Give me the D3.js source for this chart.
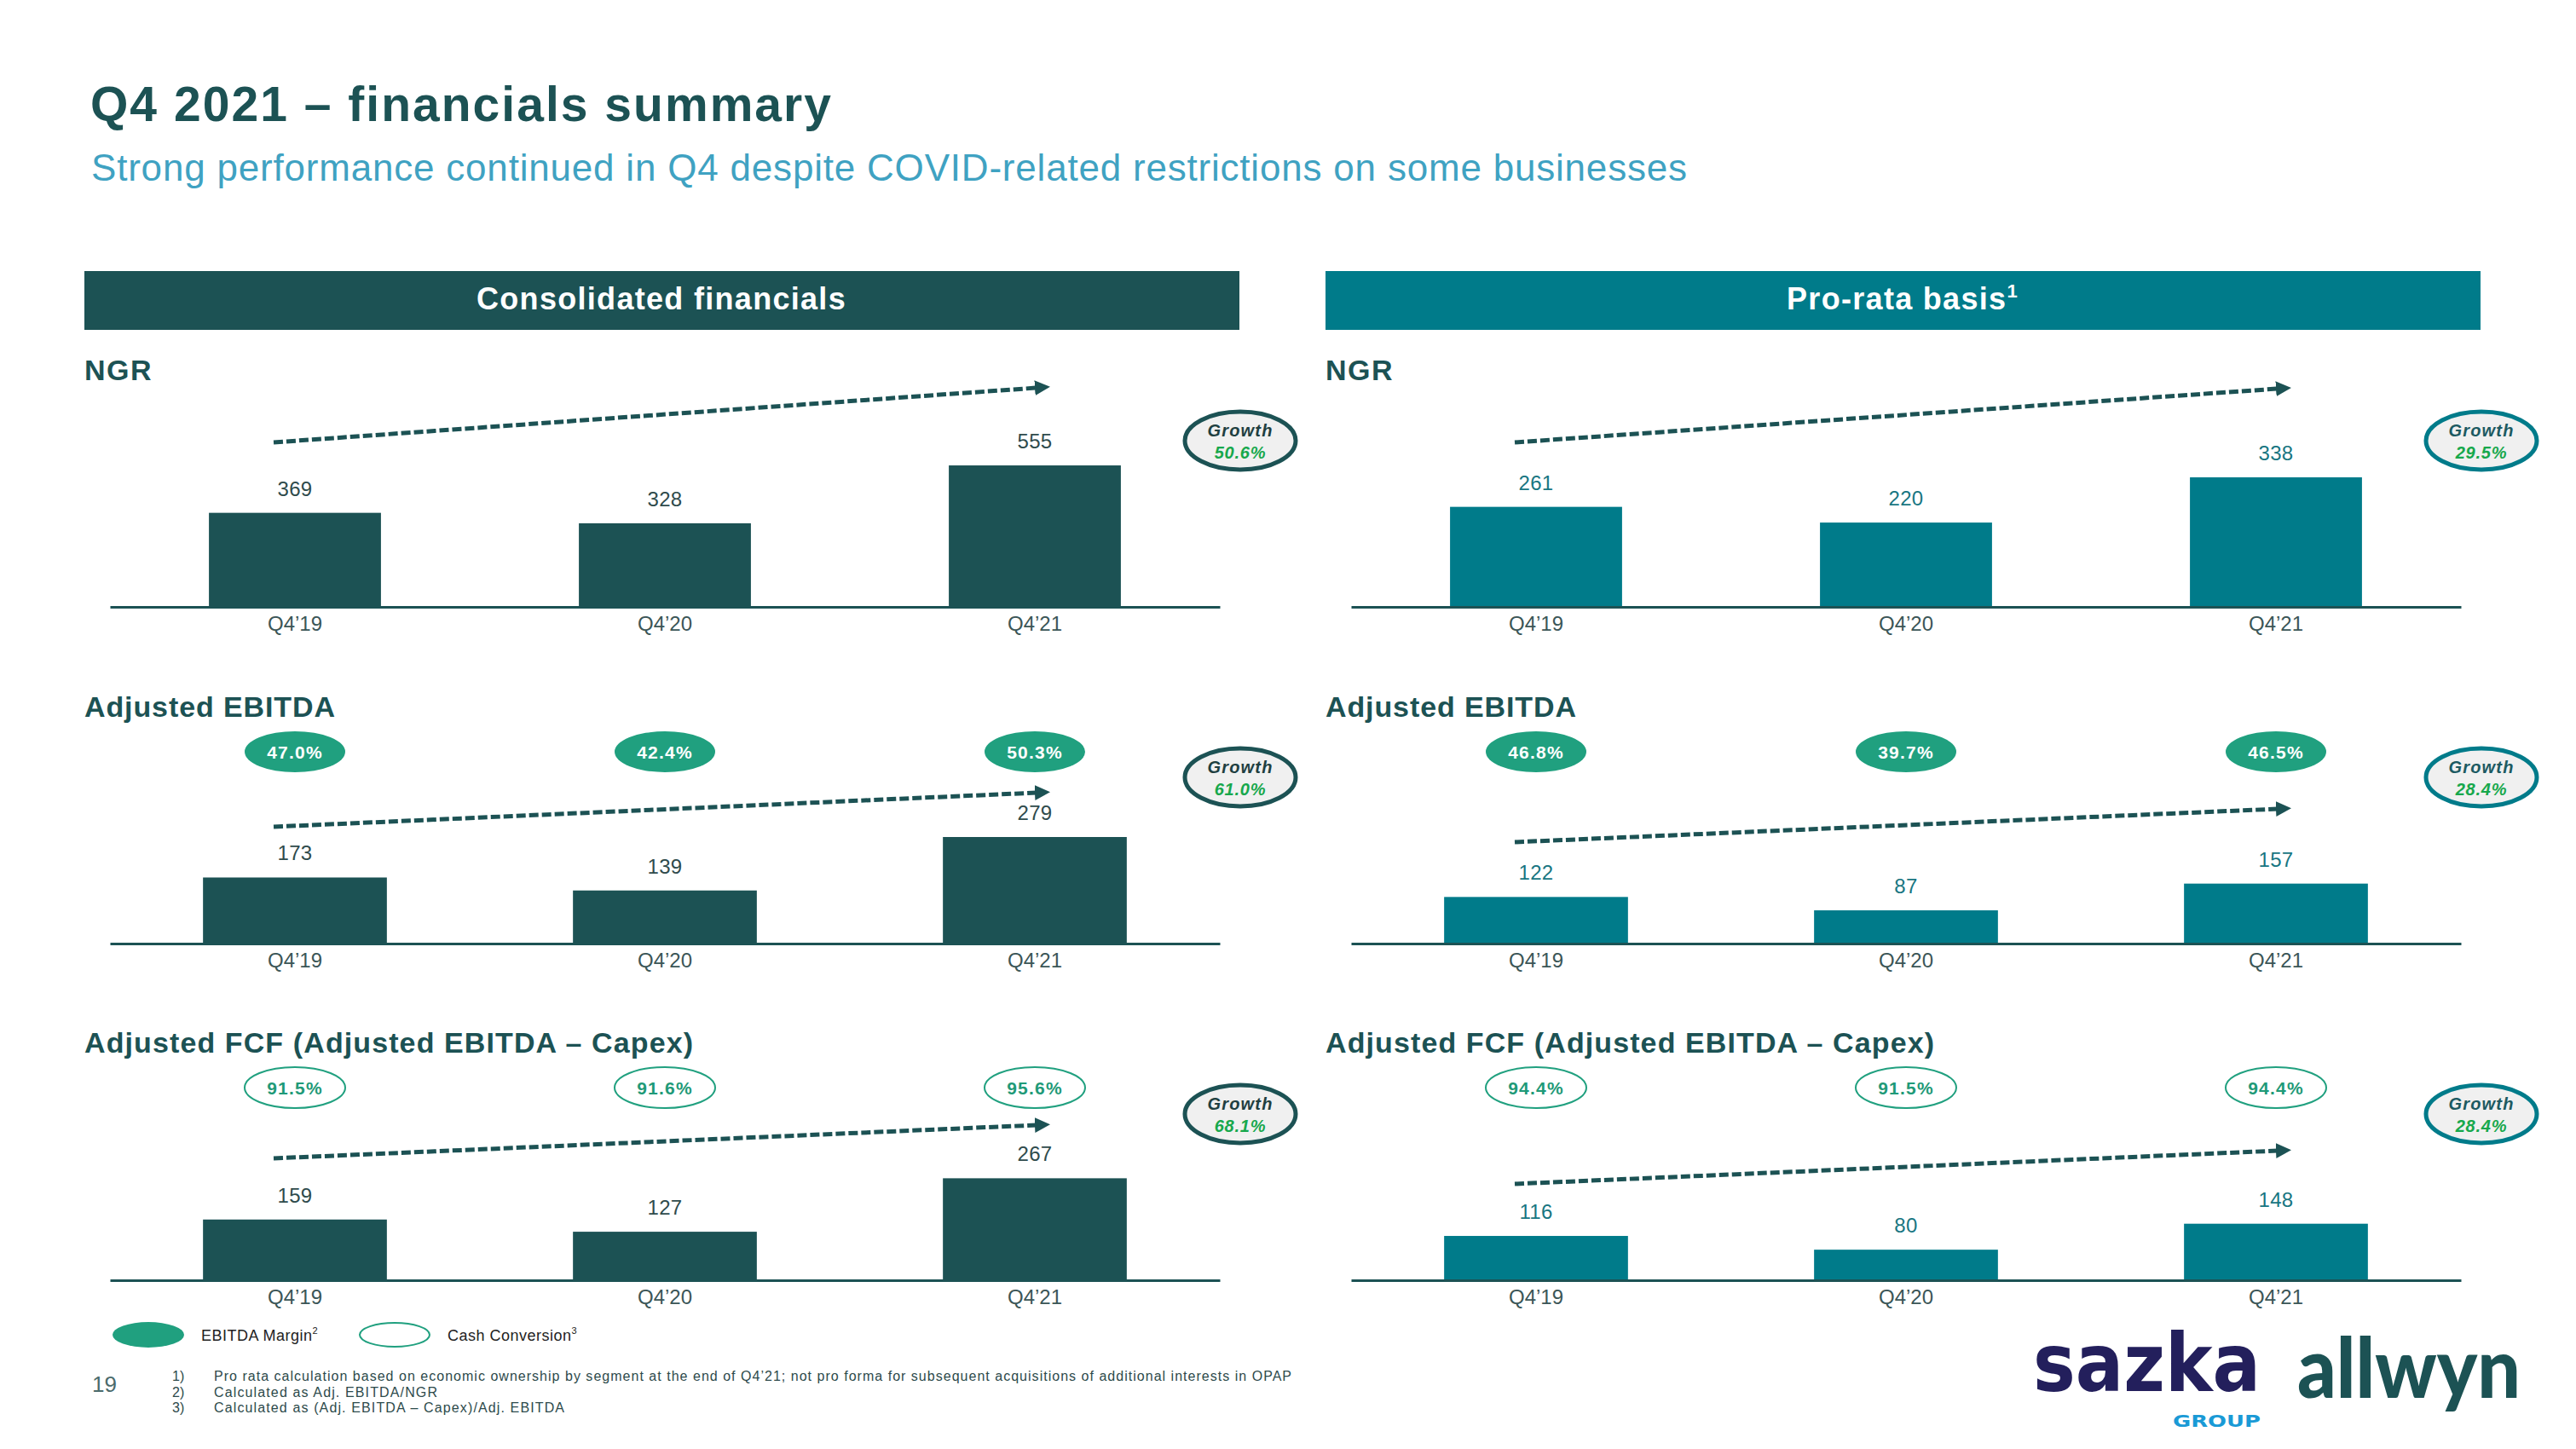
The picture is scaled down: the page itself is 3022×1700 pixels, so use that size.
<!DOCTYPE html>
<html>
<head>
<meta charset="utf-8">
<script src="https://cdn.jsdelivr.net/npm/d3@7"></script>
<style>
  html, body { margin: 0; padding: 0; background: #ffffff; }
  svg { display: block; font-family: "Liberation Sans", Arial, sans-serif; }
</style>
</head>
<body>
<svg id="chart" width="3022" height="1700"></svg>
<script>
// ---------------- DATA ----------------
const categories = ["Q4\u201919", "Q4\u201920", "Q4\u201921"];

const ngrConsolidated    = [369, 328, 555];
const ebitdaConsolidated = [173, 139, 279];
const fcfConsolidated    = [159, 127, 267];

const ngrProRata    = [261, 220, 338];
const ebitdaProRata = [122, 87, 157];
const fcfProRata    = [116, 80, 148];

const ebitdaMarginConsolidated = [47.0, 42.4, 50.3];
const ebitdaMarginProRata      = [46.8, 39.7, 46.5];
const cashConversionConsolidated = [91.5, 91.6, 95.6];
const cashConversionProRata      = [94.4, 91.5, 94.4];

const growthConsolidated = [50.6, 61.0, 68.1];
const growthProRata      = [29.5, 28.4, 28.4];

const sectionLabels = ["NGR", "Adjusted EBITDA", "Adjusted FCF (Adjusted EBITDA \u2013 Capex)"];
const footnotes = [
  "Pro rata calculation based on economic ownership by segment at the end of Q4\u201921; not pro forma for subsequent acquisitions of additional interests in OPAP",
  "Calculated as Adj. EBITDA/NGR",
  "Calculated as (Adj. EBITDA \u2013 Capex)/Adj. EBITDA"
];

// ---------------- LAYOUT / STYLE ----------------
const DARK = "#1c5254", TEAL = "#007b8a", GREEN = "#20a07f", GROWTHGREEN = "#17a84c";
const svg = d3.select("#chart");

svg.append("text").attr("x", 106).attr("y", 142)
  .attr("font-size", 57).attr("font-weight", "bold").attr("fill", DARK)
  .attr("textLength", 869).attr("lengthAdjust", "spacing")
  .text("Q4 2021 \u2013 financials summary");
svg.append("text").attr("x", 107).attr("y", 212)
  .attr("font-size", 44).attr("fill", "#3fa2c2")
  .attr("textLength", 1872).attr("lengthAdjust", "spacing")
  .text("Strong performance continued in Q4 despite COVID-related restrictions on some businesses");

const rows = [
  { axisY: 712,  labelY: 446,  barFrac: 0.465, labelLen: null },
  { axisY: 1107, labelY: 841,  barFrac: 0.497, labelLen: 294 },
  { axisY: 1502, labelY: 1235, barFrac: 0.497, labelLen: 714 }
];
const plotH = 250;

const panels = [
  { dx: 0, header: "Consolidated financials", sup: null, color: DARK, valueColor: "#2f4b4c",
    series: [ngrConsolidated, ebitdaConsolidated, fcfConsolidated],
    margins: ebitdaMarginConsolidated, conv: cashConversionConsolidated,
    growth: growthConsolidated, growthText: "#1f3f41",
    yMax: [836, 558, 558],
    arrows: [[193, 257], [137, 177], [143, 182]] },
  { dx: 1456, header: "Pro-rata basis", sup: "1", color: TEAL, valueColor: "#187682",
    series: [ngrProRata, ebitdaProRata, fcfProRata],
    margins: ebitdaMarginProRata, conv: cashConversionProRata,
    growth: growthProRata, growthText: "#1c5a62",
    yMax: [556, 558, 558],
    arrows: [[193, 256], [119, 158], [113, 152]] }
];

const defs = svg.append("defs");
defs.append("marker").attr("id", "arrowhead")
  .attr("markerUnits", "userSpaceOnUse")
  .attr("viewBox", "0 0 18 20").attr("refX", 2).attr("refY", 10)
  .attr("markerWidth", 18).attr("markerHeight", 20).attr("orient", "auto")
  .append("path").attr("d", "M0,1 L18,10 L0,19 Z").attr("fill", DARK);

panels.forEach(p => {
  const g = svg.append("g");
  // header bar
  g.append("rect").attr("x", 99 + p.dx).attr("y", 318).attr("width", 1355).attr("height", 69).attr("fill", p.color);
  const ht = g.append("text").attr("x", 776 + p.dx).attr("y", 363).attr("text-anchor", "middle")
    .attr("font-size", 36).attr("font-weight", "bold").attr("fill", "#fff").attr("letter-spacing", 1.3)
    .text(p.header);
  if (p.sup) ht.append("tspan").attr("font-size", 22).attr("dy", -14).text(p.sup);

  const x = d3.scaleBand().domain(categories).range([129 + p.dx, 1431 + p.dx]);

  rows.forEach((r, i) => {
    const data = p.series[i];
    const y = d3.scaleLinear().domain([0, p.yMax[i]]).range([r.axisY, r.axisY - plotH]);
    const bw = x.bandwidth() * r.barFrac;

    // section label
    const lab = g.append("text").attr("x", 99 + p.dx).attr("y", r.labelY)
      .attr("font-size", 34).attr("font-weight", "bold").attr("fill", DARK)
      .attr("letter-spacing", 1.5).text(sectionLabels[i]);
    if (r.labelLen) lab.attr("textLength", r.labelLen).attr("lengthAdjust", "spacing").attr("letter-spacing", null);

    // bars
    g.selectAll(null).data(data).enter().append("rect")
      .attr("x", (d, k) => x(categories[k]) + (x.bandwidth() - bw) / 2)
      .attr("y", d => y(d)).attr("width", bw).attr("height", d => y(0) - y(d))
      .attr("fill", p.color);

    // value labels
    g.selectAll(null).data(data).enter().append("text")
      .attr("x", (d, k) => x(categories[k]) + x.bandwidth() / 2)
      .attr("y", d => y(d) - 20).attr("text-anchor", "middle")
      .attr("font-size", 24).attr("fill", p.valueColor).attr("letter-spacing", 0.3)
      .text(d => d);

    // axis
    const ax = g.append("g").attr("transform", `translate(0,${r.axisY})`)
      .call(d3.axisBottom(x).tickSize(0).tickSizeOuter(0).tickPadding(11));
    ax.select(".domain").attr("stroke", DARK).attr("stroke-width", 3);
    ax.selectAll(".tick text").attr("font-size", 24).attr("fill", "#3b5657")
      .attr("font-family", "Liberation Sans, Arial, sans-serif");

    // trend arrow
    const x0 = x(categories[0]) + x.bandwidth() / 2 - 25;
    const x1 = x(categories[2]) + x.bandwidth() / 2 + 2;
    g.append("line").attr("x1", x0).attr("y1", r.axisY - p.arrows[i][0])
      .attr("x2", x1).attr("y2", r.axisY - p.arrows[i][1])
      .attr("stroke", DARK).attr("stroke-width", 5).attr("stroke-dasharray", "11 4")
      .attr("marker-end", "url(#arrowhead)");

    // growth bubble
    const gcx = 1455 + p.dx, gcy = [517, 912, 1307][i];
    g.append("ellipse").attr("cx", gcx).attr("cy", gcy).attr("rx", 65).attr("ry", 34)
      .attr("fill", "#f0f0f0").attr("stroke", p.color).attr("stroke-width", 5);
    g.append("text").attr("x", gcx).attr("y", gcy - 5).attr("text-anchor", "middle")
      .attr("font-size", 20).attr("font-weight", "bold").attr("font-style", "italic")
      .attr("letter-spacing", 1.2).attr("fill", p.growthText).text("Growth");
    g.append("text").attr("x", gcx).attr("y", gcy + 21).attr("text-anchor", "middle")
      .attr("font-size", 20).attr("font-weight", "bold").attr("font-style", "italic")
      .attr("letter-spacing", 0.8).attr("fill", GROWTHGREEN).text(p.growth[i].toFixed(1) + "%");

    // KPI pills
    if (i > 0) {
      const vals = i === 1 ? p.margins : p.conv;
      const filled = i === 1;
      const cy = i === 1 ? 882 : 1276;
      g.selectAll(null).data(vals).enter().append("ellipse")
        .attr("cx", (d, k) => x(categories[k]) + x.bandwidth() / 2).attr("cy", cy)
        .attr("rx", 59).attr("ry", 24)
        .attr("fill", filled ? GREEN : "#fff").attr("stroke", filled ? "none" : GREEN).attr("stroke-width", 2);
      g.selectAll(null).data(vals).enter().append("text")
        .attr("x", (d, k) => x(categories[k]) + x.bandwidth() / 2).attr("y", cy + 8)
        .attr("text-anchor", "middle").attr("font-size", 21).attr("font-weight", "bold")
        .attr("letter-spacing", 1.2).attr("fill", filled ? "#fff" : "#1f9a78")
        .text(d => d.toFixed(1) + "%");
    }
  });
});

// legend
const leg = svg.append("g");
leg.append("ellipse").attr("cx", 174).attr("cy", 1566).attr("rx", 42).attr("ry", 15).attr("fill", GREEN);
leg.append("ellipse").attr("cx", 463).attr("cy", 1566).attr("rx", 41).attr("ry", 14).attr("fill", "#fff").attr("stroke", GREEN).attr("stroke-width", 2);
const l1 = leg.append("text").attr("x", 236).attr("y", 1573).attr("font-size", 18).attr("fill", "#222").attr("letter-spacing", 0.5).text("EBITDA Margin");
l1.append("tspan").attr("font-size", 11).attr("dy", -8).text("2");
const l2 = leg.append("text").attr("x", 525).attr("y", 1573).attr("font-size", 18).attr("fill", "#222").attr("letter-spacing", 0.5).text("Cash Conversion");
l2.append("tspan").attr("font-size", 11).attr("dy", -8).text("3");

// footnotes
svg.append("text").attr("x", 108).attr("y", 1633).attr("font-size", 26).attr("fill", "#4b6b6c").text("19");
const fnLens = [1264, 262, 411];
footnotes.forEach((t, k) => {
  const yy = 1620 + k * 18.5;
  svg.append("text").attr("x", 202).attr("y", yy).attr("font-size", 16).attr("fill", "#2d4a4b").text((k + 1) + ")");
  svg.append("text").attr("x", 251).attr("y", yy).attr("font-size", 16).attr("fill", "#2d4a4b")
    .attr("textLength", fnLens[k]).attr("lengthAdjust", "spacing").text(t);
});

// logos
svg.append("text").attr("x", 2385).attr("y", 1632).attr("font-family", "DejaVu Sans").attr("font-weight", "bold")
  .attr("font-size", 95).attr("fill", "#231f5c").attr("textLength", 267).attr("lengthAdjust", "spacingAndGlyphs").text("sazka");
svg.append("text").attr("x", 2549).attr("y", 1674).attr("font-family", "DejaVu Sans").attr("font-weight", "bold")
  .attr("font-size", 20).attr("fill", "#1a9ad6").attr("textLength", 103).attr("lengthAdjust", "spacingAndGlyphs").text("GROUP");
svg.append("text").attr("x", 2695).attr("y", 1640).attr("font-family", "Lato").attr("font-weight", 900)
  .attr("font-size", 98).attr("fill", DARK).attr("textLength", 262).attr("lengthAdjust", "spacingAndGlyphs").text("allwyn");
</script>
</body>
</html>
